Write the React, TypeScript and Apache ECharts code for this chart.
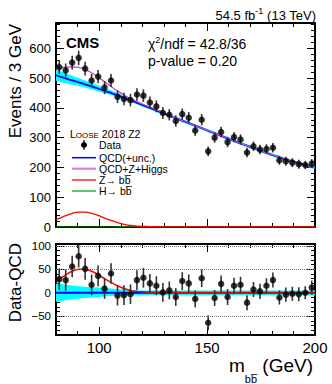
import React, { useEffect, useRef } from "react";
import * as echarts from "echarts";

const FONT = '"Liberation Sans", Arial, Helvetica, sans-serif';

// bin centres (3 GeV bins from 80 to 200 GeV)
const binMass = [81.5, 84.5, 87.5, 90.5, 93.5, 96.5, 99.5, 102.5, 105.5, 108.5, 111.5, 114.5, 117.5, 120.5, 123.5, 126.5, 129.5, 132.5, 135.5, 138.5, 141.5, 144.5, 147.5, 150.5, 153.5, 156.5, 159.5, 162.5, 165.5, 168.5, 171.5, 174.5, 177.5, 180.5, 183.5, 186.5, 189.5, 192.5, 195.5, 198.5];
const dataEvents = [537, 526, 552, 568, 532, 492, 505, 468, 492, 437, 430, 426, 445, 441, 418, 405, 383, 377, 356, 379, 367, 324, 360, 254, 300, 319, 285, 302, 294, 250, 271, 260, 262, 266, 224, 221, 216, 211, 208, 213];
const dataErr = [23, 23, 23, 24, 23, 22, 22, 22, 22, 21, 21, 21, 21, 21, 20, 20, 20, 19, 19, 19, 19, 18, 19, 16, 17, 18, 17, 17, 17, 16, 16, 16, 16, 16, 15, 15, 15, 15, 14, 15];
const residual = [29, 27, 56, 78, 51, 17, 36, 9, 41, -6, -5, -3, 27, 32, 20, 15, 1, 5, -9, 25, 20, -13, 31, -64, -11, 19, -9, 15, 17, -21, 7, 3, 15, 27, -10, -4, -2, -3, 0, 11];

// model curves on [80, bin centres..., 200]
const curveMass = [80, ...binMass, 200];
const qcdCurve = [510, 506, 499, 492, 486, 479, 472, 465, 457, 450, 442, 434, 426, 417, 408, 400, 391, 383, 374, 366, 357, 349, 340, 332, 323, 315, 306, 298, 289, 281, 273, 265, 257, 249, 241, 234, 227, 220, 214, 208, 202, 199];
const zCurve = [25, 29, 38, 46, 50, 50, 46, 39, 30, 22, 15, 9, 5, 3, 2, 1.3, 0.9, 0.6, 0.5, 0.4, 0.3, 0.3, 0.3, 0.2, 0.2, 0.2, 0.2, 0.2, 0.2, 0.2, 0.2, 0.2, 0.2, 0.2, 0.2, 0.2, 0.2, 0.2, 0.2, 0.2, 0.2, 0.2];
const hCurve = [0, 0, 0, 0, 0, 0, 0, 0, 0, 0, 0.1, 0.3, 0.6, 1.0, 1.4, 1.6, 1.5, 1.2, 0.8, 0.5, 0.3, 0.2, 0.1, 0, 0, 0, 0, 0, 0, 0, 0, 0, 0, 0, 0, 0, 0, 0, 0, 0, 0, 0];
const uncUp = [20, 19, 17, 15.5, 14, 13, 12, 11, 10, 9, 8, 7, 6, 5.5, 5, 5, 5, 5, 5, 5, 5, 5, 5, 5, 5, 5, 5, 5, 5, 5, 5, 5, 5, 5, 5, 5, 5, 5, 5, 5, 5, 5];
const uncDown = [19, 18, 16, 14, 12.5, 11, 10, 9, 8, 7, 6, 5.5, 5, 5, 5, 5, 5, 5, 5, 5, 5, 5, 5, 5, 5, 5, 5, 5, 5, 5, 5, 5, 5, 5, 5, 5, 5, 5, 5, 5, 5, 5];

const xMajorTicks = [100, 150, 200];
const yTopMajorTicks = [0, 100, 200, 300, 400, 500, 600];
const yBotMajorTicks = [-50, 0, 50, 100];
const yBotGridLines = [100, 50, -50];

const X_MIN = 80, X_MAX = 200;
const YT_MIN = 0, YT_MAX = 685;
const YB_MIN = -90, YB_MAX = 104;

const COL = { blue: "#0000ff", cyan: "#00ffff", magenta: "#d040d0", red: "#ff0000", green: "#00a000" };
const FRAME_W = 2;

function xAxes(grid: number, showLabels: boolean) {
  const base = { gridIndex: grid, type: "value", min: X_MIN, max: X_MAX, splitLine: { show: false } };
  const out: any[] = [];
  for (const pos of ["bottom", "top"]) {
    out.push({ ...base, position: pos, interval: 10,
      axisLine: { show: true, onZero: false, lineStyle: { color: "#000", width: FRAME_W } },
      axisTick: { show: true, inside: true, length: 4, lineStyle: { color: "#000", width: 1 } },
      axisLabel: { show: false } });
    out.push({ ...base, position: pos,
      axisLine: { show: false, onZero: false },
      axisTick: { show: true, inside: true, length: 8, customValues: xMajorTicks, lineStyle: { color: "#000", width: 1 } },
      axisLabel: pos === "bottom" && showLabels
        ? { show: true, customValues: xMajorTicks, fontSize: 15, color: "#000", fontFamily: FONT, margin: 5 }
        : { show: false } });
  }
  return out;
}

function yAxes(grid: number, min: number, max: number, minorInt: number, major: number[], fontSize: number) {
  const base = { gridIndex: grid, type: "value", min, max, splitLine: { show: false } };
  const out: any[] = [];
  for (const pos of ["left", "right"]) {
    out.push({ ...base, position: pos, interval: minorInt,
      axisLine: { show: true, onZero: false, lineStyle: { color: "#000", width: FRAME_W } },
      axisTick: { show: true, inside: true, length: 4, lineStyle: { color: "#000", width: 1 } },
      axisLabel: { show: false } });
    out.push({ ...base, position: pos,
      axisLine: { show: false, onZero: false },
      axisTick: { show: true, inside: true, length: 8, customValues: major, lineStyle: { color: "#000", width: 1 } },
      axisLabel: pos === "left"
        ? { show: true, customValues: major, fontSize, color: "#000", fontFamily: FONT, margin: 5,
            formatter: (v: number) => (v < 0 ? "\u2212" + Math.abs(v) : String(v)) }
        : { show: false } });
  }
  return out;
}

function bandSeries(xi: number, yi: number, center: number[]) {
  return {
    type: "custom", xAxisIndex: xi, yAxisIndex: yi, clip: true, z: 1, silent: true,
    data: [[140, 0]],
    renderItem: (_p: any, api: any) => {
      const up = curveMass.map((m, i) => api.coord([m, center[i] + uncUp[i]]));
      const dn = curveMass.map((m, i) => api.coord([m, center[i] - uncDown[i]])).reverse();
      return { type: "polygon", shape: { points: up.concat(dn) }, style: { fill: COL.cyan } };
    },
  };
}

function errSeries(xi: number, yi: number, vals: number[]) {
  return {
    type: "custom", xAxisIndex: xi, yAxisIndex: yi, clip: true, z: 4, silent: true,
    data: binMass.map((m, i) => [m, vals[i], dataErr[i]]),
    renderItem: (_p: any, api: any) => {
      const x = api.value(0), y = api.value(1), e = api.value(2);
      const a = api.coord([x, y + e]);
      const b = api.coord([x, y - e]);
      return { type: "line", shape: { x1: a[0], y1: a[1], x2: b[0], y2: b[1] }, style: { stroke: "#333", lineWidth: 1.6 } };
    },
  };
}

function lineSeries(xi: number, yi: number, ys: number[], color: string, width: number, z: number, extra: any = {}) {
  return {
    type: "line", xAxisIndex: xi, yAxisIndex: yi, z, silent: true, showSymbol: false, symbol: "none", smooth: 0.3,
    data: curveMass.map((m, i) => [m, ys[i]]),
    lineStyle: { color, width }, itemStyle: { color }, ...extra,
  };
}

const totalCurve = qcdCurve.map((q, i) => q + zCurve[i] + hCurve[i]);
const zeroCurve = curveMass.map(() => 0);

function txt(x: number, y: number, text: string, extra: any = {}, rot = 0) {
  return {
    type: "text", x, y, rotation: rot, silent: true,
    style: { text, fill: "#000", fontFamily: FONT, fontSize: 14, align: "left", verticalAlign: "middle", ...extra },
  };
}
function seg(x1: number, y1: number, x2: number, y2: number, stroke: string, lineWidth: number) {
  return { type: "line", silent: true, shape: { x1, y1, x2, y2 }, style: { stroke, lineWidth } };
}

const legendY = { data: 145, qcd: 157.7, tot: 168.7, z: 180, h: 191 };

const option: any = {
  animation: false,
  backgroundColor: "#fff",
  textStyle: { fontFamily: FONT },
  grid: [
    { left: 56, top: 23, width: 259, height: 204 },
    { left: 56, top: 244, width: 259, height: 91 },
  ],
  xAxis: [...xAxes(0, false), ...xAxes(1, true)],
  yAxis: [...yAxes(0, YT_MIN, YT_MAX, 20, yTopMajorTicks, 13), ...yAxes(1, YB_MIN, YB_MAX, 10, yBotMajorTicks, 11.5)],
  series: [
    // top panel
    bandSeries(0, 0, qcdCurve),
    lineSeries(0, 0, hCurve, COL.green, 1.2, 2),
    lineSeries(0, 0, zCurve, COL.red, 1.3, 2),
    lineSeries(0, 0, qcdCurve, COL.blue, 1.8, 3),
    lineSeries(0, 0, totalCurve, COL.magenta, 1.3, 3),
    errSeries(0, 0, dataEvents),
    { type: "scatter", xAxisIndex: 0, yAxisIndex: 0, z: 5, silent: true, symbol: "circle", symbolSize: 6.5,
      itemStyle: { color: "#000" }, data: binMass.map((m, i) => [m, dataEvents[i]]) },
    // bottom panel
    bandSeries(4, 4, zeroCurve),
    lineSeries(4, 4, zeroCurve, COL.blue, 2, 3, {
      markLine: { silent: true, symbol: ["none", "none"], label: { show: false },
        lineStyle: { type: "dotted", color: "#777", width: 1 },
        data: yBotGridLines.map((v) => ({ yAxis: v })) },
    }),
    lineSeries(4, 4, zCurve, COL.red, 1.5, 3),
    errSeries(4, 4, residual),
    { type: "scatter", xAxisIndex: 4, yAxisIndex: 4, z: 5, silent: true, symbol: "circle", symbolSize: 6.5,
      itemStyle: { color: "#000" }, data: binMass.map((m, i) => [m, residual[i]]) },
  ],
  graphic: [
    txt(316, 14, "{n|54.5 fb}{s|-1}{n| (13 TeV)}", { align: "right",
      rich: { n: { fontSize: 13, lineHeight: 15, verticalAlign: "bottom", fontFamily: FONT }, s: { fontSize: 9, lineHeight: 9, verticalAlign: "top", fontFamily: FONT } } }),
    txt(66, 42, "CMS", { fontSize: 15, fontWeight: "bold" }),
    txt(148, 43, "{n|\u03c7}{s|2}{n|/ndf = 42.8/36}", {
      rich: { n: { fontSize: 14, lineHeight: 16, verticalAlign: "bottom", fontFamily: FONT }, s: { fontSize: 9, lineHeight: 9, verticalAlign: "top", fontFamily: FONT } } }),
    txt(148, 61, "p-value = 0.20", { fontSize: 14 }),
    txt(70, 134, "{a|L}{b|OOSE}{a| 2018 Z2}", {
      rich: { a: { fontSize: 10.5, lineHeight: 11, verticalAlign: "bottom", fontFamily: FONT }, b: { fontSize: 8, lineHeight: 8.5, verticalAlign: "bottom", fontFamily: FONT } } }),
    // legend
    seg(84, legendY.data - 5, 84, legendY.data + 5, "#333", 1.5),
    { type: "circle", silent: true, shape: { cx: 84, cy: legendY.data, r: 3 }, style: { fill: "#000" } },
    txt(99, legendY.data, "Data", { fontSize: 10.5 }),
    seg(72, legendY.qcd, 96, legendY.qcd, COL.blue, 1.5),
    txt(99, legendY.qcd, "QCD(+unc.)", { fontSize: 10.5 }),
    seg(72, legendY.tot, 96, legendY.tot, "#dd80dd", 2.2),
    txt(99, legendY.tot, "QCD+Z+Higgs", { fontSize: 10.5 }),
    seg(72, legendY.z, 96, legendY.z, COL.red, 1.3),
    txt(99, legendY.z, "Z\u2192 bb\u0305", { fontSize: 10.5 }),
    seg(72, legendY.h, 96, legendY.h, COL.green, 1.2),
    txt(99, legendY.h, "H\u2192 bb\u0305", { fontSize: 10.5 }),
    // axis titles
    txt(15, 24, "Events / 3 GeV", { fontSize: 17, align: "right" }, Math.PI / 2),
    txt(15, 243, "Data-QCD", { fontSize: 17, align: "right" }, Math.PI / 2),
    txt(313, 370, "{m|m}{b|bb\u0305}{m| (GeV)}", { align: "right",
      rich: { m: { fontSize: 19, lineHeight: 19, verticalAlign: "top", fontFamily: FONT }, b: { fontSize: 11, lineHeight: 28, verticalAlign: "bottom", fontFamily: FONT } } }),
  ],
};

export default function App() {
  const ref = useRef<HTMLDivElement>(null);
  useEffect(() => {
    const chart = echarts.init(ref.current!, null, { renderer: "svg" });
    chart.setOption(option);
    return () => chart.dispose();
  }, []);
  return <div ref={ref} style={{ position: "absolute", left: 0, top: 0, width: 332, height: 384 }} />;
}
